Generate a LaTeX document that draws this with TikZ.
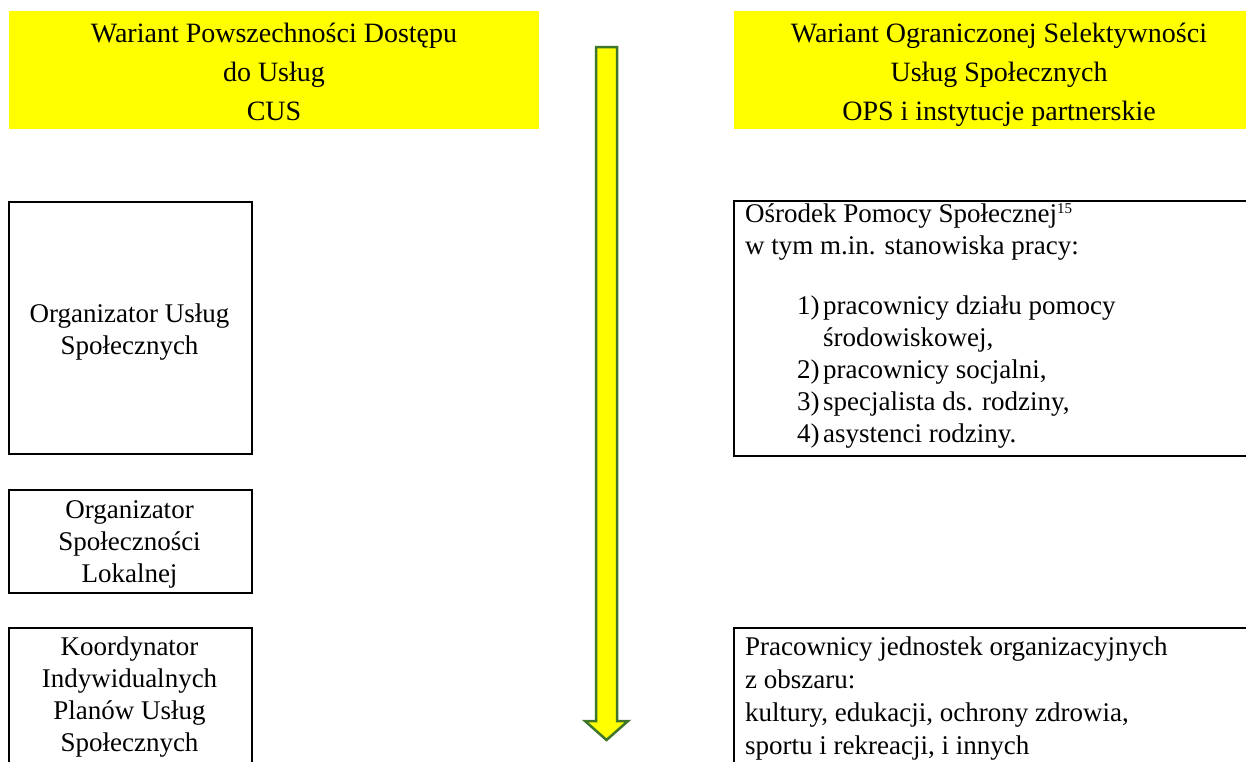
\documentclass[tikz,border=0pt]{standalone}
\usepackage{fontspec}
\setmainfont{Liberation Serif}
\definecolor{hdryellow}{RGB}{255,255,0}
\definecolor{arrowgreen}{RGB}{64,118,44}
% fixed-height strut so every text block's top edge sits 25pt above its first baseline
\newcommand\topstrut{\rule{0pt}{25pt}}
% small raised footnote mark
\newcommand\fnmark[1]{{\fontsize{15}{15}\selectfont\raisebox{9pt}{#1}}}
\begin{document}
\begin{tikzpicture}[x=1pt,y=-1pt,
  hdrbox/.style={fill=hdryellow, draw=none, anchor=north west, inner sep=0pt},
  panel/.style={draw=black, line width=2pt, anchor=north west, inner sep=0pt},
  hdrtext/.style={inner sep=0pt, anchor=north, align=center, font=\fontsize{28}{39}\selectfont},
  boxtext/.style={inner sep=0pt, anchor=north, align=center, font=\fontsize{27}{32}\selectfont},
  listtext/.style={inner sep=0pt, anchor=north west, align=left, font=\fontsize{27}{32}\selectfont},
  flowarrow/.style={fill=hdryellow, draw=arrowgreen, line width=2.5pt, line join=miter}]
\useasboundingbox (0,0) rectangle (1246,761);
\clip (0,0) rectangle (1246,761);

% column headers
\node[hdrbox, minimum width=530pt, minimum height=118pt] (hdrL) at (9,11) {};
\node[hdrbox, minimum width=540pt, minimum height=118pt] (hdrR) at (734,11) {};
\node[hdrtext] (hdrLt) at (274,17) {\topstrut Wariant Powszechności Dostępu\\ do Usług\\ CUS};
\node[hdrtext] (hdrRt) at (999,17) {\topstrut Wariant Ograniczonej Selektywności\\ Usług Społecznych\\ OPS i instytucje partnerskie};

% central downward arrow
\draw[flowarrow] (596,47) -- (617,47) -- (617,721) -- (628,721) -- (606.5,740)
  -- (585,721) -- (596,721) -- cycle;

% left column: CUS roles
\node[panel, minimum width=243pt, minimum height=252pt] (ous) at (8,201) {};
\node[boxtext] (oust) at (129.5,297) {\topstrut Organizator Usług\\ Społecznych};

\node[panel, minimum width=243pt, minimum height=103pt] (osl) at (8,489) {};
\node[boxtext] (oslt) at (129.5,493) {\topstrut Organizator\\ Społeczności\\ Lokalnej};

\node[panel, minimum width=243pt, minimum height=200pt] (kip) at (8,627) {};
\node[boxtext] (kipt) at (129.5,630) {\topstrut Koordynator\\ Indywidualnych\\ Planów Usług\\ Społecznych};

% right column: OPS and partner institutions
\node[panel, minimum width=540pt, minimum height=255pt] (ops) at (733,200) {};
\node[listtext] (opst) at (745,197) {\topstrut Ośrodek Pomocy Społecznej\fnmark{15}\\
  w tym m.in. stanowiska pracy:\\[28pt]
  \hspace*{52pt}\makebox[26pt][l]{1)}pracownicy działu pomocy\\
  \hspace*{78pt}środowiskowej,\\
  \hspace*{52pt}\makebox[26pt][l]{2)}pracownicy socjalni,\\
  \hspace*{52pt}\makebox[26pt][l]{3)}specjalista ds. rodziny,\\
  \hspace*{52pt}\makebox[26pt][l]{4)}asystenci rodziny.};

\node[panel, minimum width=540pt, minimum height=200pt] (pjo) at (733,627) {};
\node[listtext, font=\fontsize{27}{33}\selectfont] (pjot) at (745,630) {\topstrut Pracownicy jednostek organizacyjnych\\
  z obszaru:\\
  kultury, edukacji, ochrony zdrowia,\\
  sportu i rekreacji, i innych};
\end{tikzpicture}
\end{document}
